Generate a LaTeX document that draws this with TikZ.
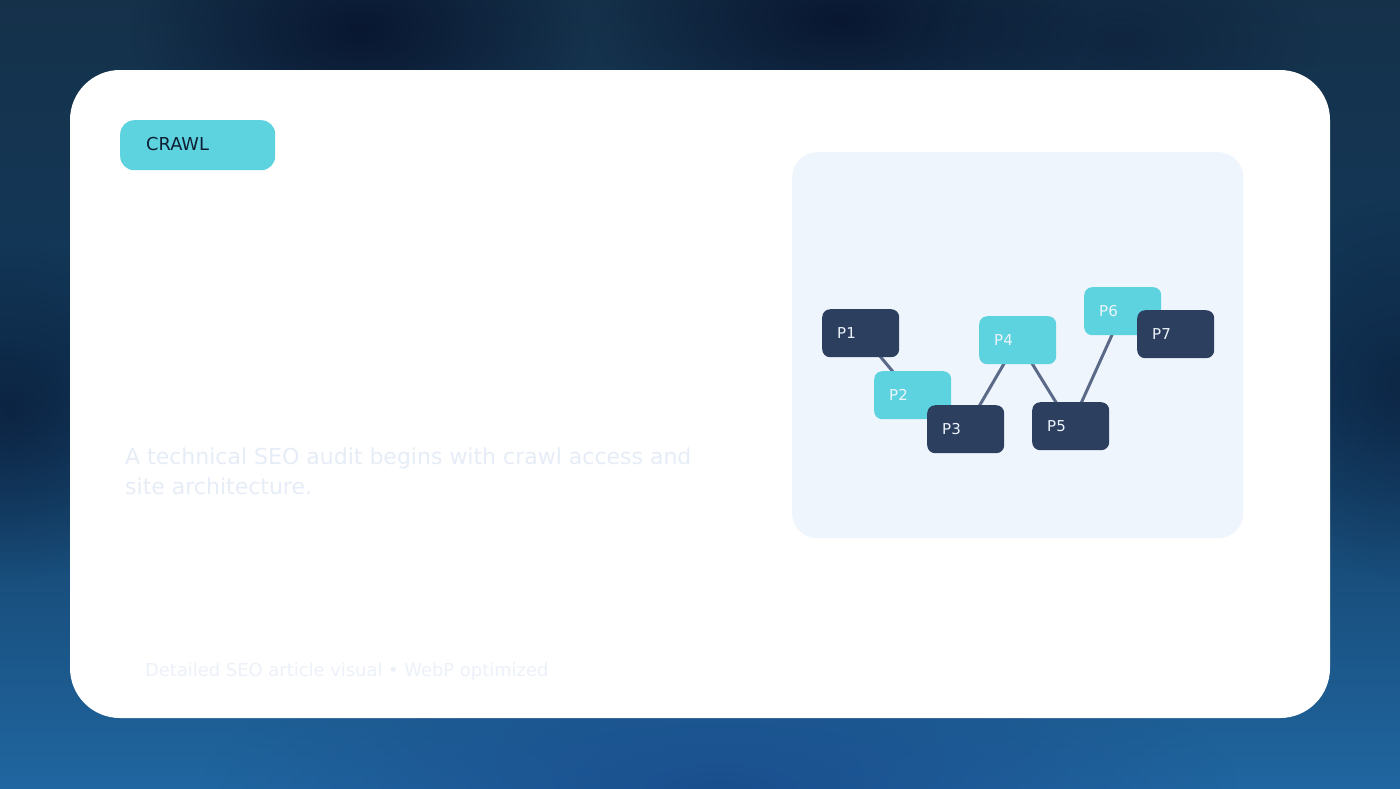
\documentclass[tikz,border=0pt]{standalone}
\usepackage{fontspec}
\setmainfont{DejaVu Sans}
\usetikzlibrary{fadings}
\definecolor{bgtop}{HTML}{15314A}
\definecolor{bgmid}{HTML}{123A5E}
\definecolor{bgbot}{HTML}{2066A0}
\definecolor{blobdark}{HTML}{08142E}
\definecolor{blobblue}{HTML}{1A4C8C}
\definecolor{cyanbox}{HTML}{5DD3E0}
\definecolor{navybox}{HTML}{2C3F5F}
\definecolor{paneltint}{HTML}{EFF5FC}
\definecolor{edgecol}{HTML}{5A6A88}
\definecolor{pilltext}{HTML}{0F1F33}
\definecolor{ghost}{HTML}{E6EDF7}
\definecolor{ghostfoot}{HTML}{ECF1F9}
\definecolor{labeltext}{HTML}{EEF4FB}
\tikzfading[name=softblob, inner color=transparent!0, outer color=transparent!100]
\pgfdeclarelayer{bg}
\pgfdeclarelayer{links}
\pgfsetlayers{bg,links,main}
\tikzset{
  pnode/.style={minimum width=77pt, minimum height=48pt, rounded corners=8pt,
    inner xsep=15pt, inner ysep=0pt, text width=47pt, align=left,
    text=labeltext, font=\fontsize{15}{18}\selectfont, anchor=north west},
  darkp/.style={pnode, fill=navybox},
  lightp/.style={pnode, fill=cyanbox},
  link/.style={draw=edgecol, line width=3pt},
  blob/.style={path fading=softblob}
}
\begin{document}
\begin{tikzpicture}[x=1pt,y=-1pt]
\useasboundingbox (0,0) rectangle (1400,788);
\begin{pgfonlayer}{bg}
% background
\shade[top color=bgtop, bottom color=bgbot, middle color=bgmid] (0,0) rectangle (1400,788);
\fill[blobdark, opacity=0.9, blob] (360,30) ellipse (230 and 130);
\fill[blobdark, opacity=0.9, blob] (840,20) ellipse (250 and 120);
\fill[blobdark, opacity=0.6, blob] (10,410) ellipse (170 and 170);
\fill[blobdark, opacity=0.5, blob] (1400,390) ellipse (160 and 190);
\fill[blobdark, opacity=0.4, blob] (1120,40) ellipse (200 and 100);
\fill[blobblue, opacity=0.9, blob] (720,790) ellipse (520 and 150);
% card
\fill[white, rounded corners=50pt] (70,70) rectangle (1330,718);
% pill
\node[fill=cyanbox, rounded corners=14pt, minimum width=155pt, minimum height=50pt, anchor=north west, inner sep=0pt] (pill) at (120,120) {};
\node[anchor=west, inner sep=0pt, text=pilltext, font=\fontsize{17.8}{20}\selectfont] (pilltxt) at (146,144.5) {CRAWL};
% body text
\node[anchor=north west, inner sep=0pt, text=ghost, font=\fontsize{22}{30}\selectfont, align=left] (body) at (125,448) {A technical SEO audit begins with crawl access and\\site architecture.};
\node[anchor=west, inner sep=0pt, text=ghostfoot, font=\fontsize{17.9}{20}\selectfont] (foot) at (145,671.5) {Detailed SEO article visual • WebP optimized};
% panel
\node[fill=paneltint, rounded corners=25pt, minimum width=451pt, minimum height=386pt, anchor=north west, inner sep=0pt] (panel) at (792,152) {};
\end{pgfonlayer}
% page nodes
\node[darkp] (p1) at (822,309) {P1};
\node[lightp] (p2) at (874,371) {P2};
\node[darkp] (p3) at (927,405) {P3};
\node[lightp] (p4) at (979,316) {P4};
\node[darkp] (p5) at (1032,402) {P5};
\node[lightp] (p6) at (1084,287) {P6};
\node[darkp] (p7) at (1137,310) {P7};
% connectors beneath the boxes
\begin{pgfonlayer}{links}
\draw[link] (p1.center) -- (p2.center);
\draw[link] (p3.center) -- (p4.center);
\draw[link] (p4.center) -- (p5.center);
\draw[link] (p5.center) -- (p6.center);
\end{pgfonlayer}
\end{tikzpicture}
\end{document}
